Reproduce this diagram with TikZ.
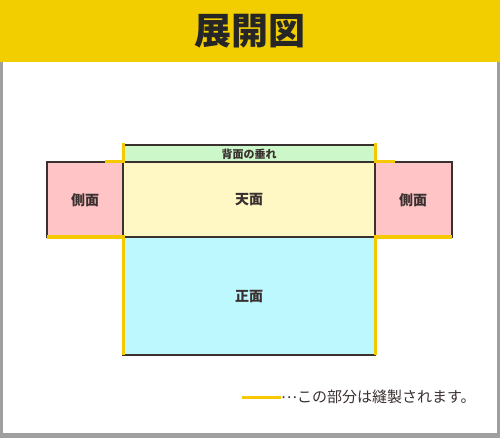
\documentclass[tikz,border=0pt]{standalone}
\usepackage{fontspec}
\newfontfamily\jpfont{Noto Sans CJK JP}
\definecolor{hdryellow}{HTML}{F2CE00}
\definecolor{sewyellow}{HTML}{F5C800}
\definecolor{backgreen}{HTML}{CCF7C8}
\definecolor{topyellow}{HTML}{FFF8C4}
\definecolor{sidepink}{HTML}{FFC4C6}
\definecolor{frontcyan}{HTML}{BEF8FF}
\definecolor{edgedark}{HTML}{3A3030}
\tikzset{
  panel/.style={draw=edgedark, line width=1.1pt},
  sewn/.style={draw=sewyellow, line width=3pt},
  lbl/.style={font=\jpfont\bfseries\fontsize{14}{14}\selectfont, text=edgedark}
}
\begin{document}
\begin{tikzpicture}[x=1pt, y=-1pt]
			\useasboundingbox (0,0) rectangle (500,438);
			\fill[gray!75] (0,0) rectangle (500,438);
			\fill[white] (3,62) rectangle (497,433);
			\fill[hdryellow] (0,0) rectangle (500,62);
			\node[font=\jpfont\bfseries\fontsize{37}{37}\selectfont, text=black!85] (title) at (250,31) {展開図};
			\draw[panel, fill=backgreen] (123,145) rectangle (375,162);
			\draw[panel, fill=topyellow] (123,162) rectangle (375,237);
			\draw[panel, fill=sidepink] (47,162) rectangle (123,237);
			\draw[panel, fill=sidepink] (375,162) rectangle (452,237);
			\draw[panel, fill=frontcyan] (123,237) rectangle (375,355);
			\draw[sewn] (123,143) -- (123,162) -- (105,162);
			\draw[sewn] (375,143) -- (375,162) -- (395,162);
			\draw[sewn] (47,237) -- (123,237) -- (123,355);
			\draw[sewn] (452,237) -- (375,237) -- (375,355);
			\node[lbl, font=\jpfont\bfseries\fontsize{11}{11}\selectfont] (back) at (249,154) {背面の垂れ};
			\node[lbl] (top) at (249,200) {天面};
			\node[lbl] (leftside) at (85,200) {側面};
			\node[lbl] (rightside) at (413,200) {側面};
			\node[lbl] (front) at (249,297) {正面};
			\coordinate (keystart) at (242,397);
			\node[anchor=west, font=\jpfont\fontsize{15}{15}\selectfont, text=edgedark, inner sep=0pt] (key) at (281,397) {\raisebox{0.3em}{…}この部分は縫製されます。};
			\draw[sewn] (keystart) -- (key.west);
		\end{tikzpicture}
\end{document}
